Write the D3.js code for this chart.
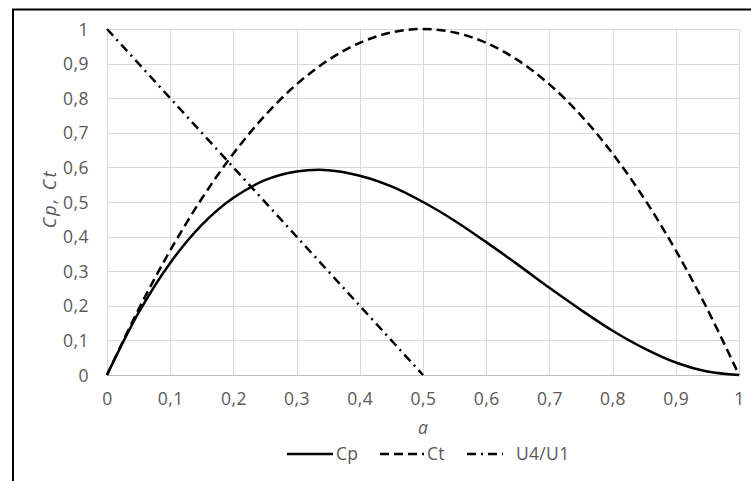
<!DOCTYPE html>
<html>
<head>
<meta charset="utf-8">
<script src="https://cdn.jsdelivr.net/npm/d3@7"></script>
<style>
  html, body { margin: 0; padding: 0; background: #fff; }
  svg { display: block; }
  text { font-family: "Open Sans", "Noto Sans", sans-serif; fill: #595959; }
</style>
</head>
<body>
<svg id="chart" width="751" height="481"></svg>
<script>
// Axial induction factor a and the resulting coefficients
const aValues = [0, 0.05, 0.1, 0.15, 0.2, 0.25, 0.3, 0.35, 0.4, 0.45, 0.5,
                 0.55, 0.6, 0.65, 0.7, 0.75, 0.8, 0.85, 0.9, 0.95, 1];
const cpValues = [0, 0.18, 0.324, 0.434, 0.512, 0.563, 0.588, 0.592, 0.576, 0.545, 0.5,
                  0.446, 0.384, 0.319, 0.252, 0.188, 0.128, 0.077, 0.036, 0.01, 0];
const ctValues = [0, 0.19, 0.36, 0.51, 0.64, 0.75, 0.84, 0.91, 0.96, 0.99, 1,
                  0.99, 0.96, 0.91, 0.84, 0.75, 0.64, 0.51, 0.36, 0.19, 0];
const u4aValues = [0, 0.5];
const u4Values = [1, 0];

const xTicks = [0, 0.1, 0.2, 0.3, 0.4, 0.5, 0.6, 0.7, 0.8, 0.9, 1];
const yTicks = [0, 0.1, 0.2, 0.3, 0.4, 0.5, 0.6, 0.7, 0.8, 0.9, 1];
const seriesNames = ["Cp", "Ct", "U4/U1"];
const xTitle = "a";
const yTitle = "Cp, Ct";

const FS = 17.5;
const fmt = v => (v === 0 || v === 1) ? String(v) : String(v).replace(".", ",");

const svg = d3.select("#chart");
const plot = { left: 107, right: 739, top: 29, bottom: 375 };

const x = d3.scaleLinear().domain([0, 1]).range([plot.left, plot.right]);
const y = d3.scaleLinear().domain([0, 1]).range([plot.bottom, plot.top]);

// outer frame
svg.append("rect")
  .attr("x", 13).attr("y", 9.5)
  .attr("width", 800).attr("height", 500)
  .attr("fill", "none").attr("stroke", "#000").attr("stroke-width", 2);

// grid
const grid = svg.append("g").attr("stroke", "#d9d9d9").attr("stroke-width", 1).attr("shape-rendering", "crispEdges");
grid.selectAll("line.v").data(xTicks).join("line")
  .attr("x1", d => Math.round(x(d)) + 0.5).attr("x2", d => Math.round(x(d)) + 0.5)
  .attr("y1", plot.top).attr("y2", plot.bottom);
grid.selectAll("line.h").data(yTicks).join("line")
  .attr("y1", d => Math.round(y(d)) + 0.5).attr("y2", d => Math.round(y(d)) + 0.5)
  .attr("x1", plot.left).attr("x2", plot.right);

// axes (labels only)
const xAxis = d3.axisBottom(x).tickValues(xTicks).tickFormat(fmt).tickSize(0).tickPadding(0);
const gx = svg.append("g").attr("transform", `translate(0,${plot.bottom + 24})`).call(xAxis);
gx.select(".domain").remove();
gx.selectAll("text").attr("font-size", FS).attr("fill", "#595959").attr("letter-spacing", 0.5)
  .attr("font-family", "'Open Sans', sans-serif").attr("dy", "0.35em");

const yAxis = d3.axisLeft(y).tickValues(yTicks).tickFormat(fmt).tickSize(0).tickPadding(0);
const gy = svg.append("g").attr("transform", `translate(${plot.left - 18},0)`).call(yAxis);
gy.select(".domain").remove();
gy.selectAll("text").attr("font-size", FS).attr("fill", "#595959").attr("letter-spacing", 0.5)
  .attr("font-family", "'Open Sans', sans-serif").attr("dy", "0.35em");

// bottom axis line
svg.append("line")
  .attr("x1", plot.left).attr("x2", plot.right)
  .attr("y1", Math.round(y(0)) + 0.5).attr("y2", Math.round(y(0)) + 0.5)
  .attr("stroke", "#bfbfbf").attr("stroke-width", 1);

// axis titles
svg.append("text")
  .attr("x", (plot.left + plot.right) / 2).attr("y", 428).attr("dy", "0.35em")
  .attr("text-anchor", "middle").attr("font-size", FS).attr("font-style", "italic")
  .text(xTitle);
svg.append("text")
  .attr("transform", `translate(50,${(plot.top + plot.bottom) / 2 - 3}) rotate(-90)`)
  .attr("dy", "0.35em").attr("letter-spacing", 2)
  .attr("text-anchor", "middle").attr("font-size", 18).attr("font-style", "italic")
  .text(yTitle);

// series
const dashes = ["none", "9,5", "9,5,2,5"];
const line = d3.line().x(d => x(d[0])).y(d => y(d[1])).curve(d3.curveCatmullRom.alpha(0.5));
const series = [
  aValues.map((a, i) => [a, cpValues[i]]),
  aValues.map((a, i) => [a, ctValues[i]]),
  u4aValues.map((a, i) => [a, u4Values[i]])
];
svg.append("g").selectAll("path").data(series).join("path")
  .attr("d", line)
  .attr("fill", "none").attr("stroke", "#000").attr("stroke-width", 2.5)
  .attr("stroke-dasharray", (d, i) => dashes[i]);

// legend
const legendY = 454;
const legendItems = [
  { x0: 287, x1: 333, tx: 336 },
  { x0: 380, x1: 424, tx: 427 },
  { x0: 467, x1: 503, tx: 516 }
];
const lg = svg.append("g");
legendItems.forEach((it, i) => {
  lg.append("line")
    .attr("x1", it.x0).attr("x2", it.x1).attr("y1", legendY).attr("y2", legendY)
    .attr("stroke", "#000").attr("stroke-width", 2.5)
    .attr("stroke-dasharray", dashes[i]);
  lg.append("text")
    .attr("x", it.tx).attr("y", legendY).attr("dy", "0.35em").attr("letter-spacing", 0.3)
    .attr("font-size", FS).text(seriesNames[i]);
});
</script>
</body>
</html>
